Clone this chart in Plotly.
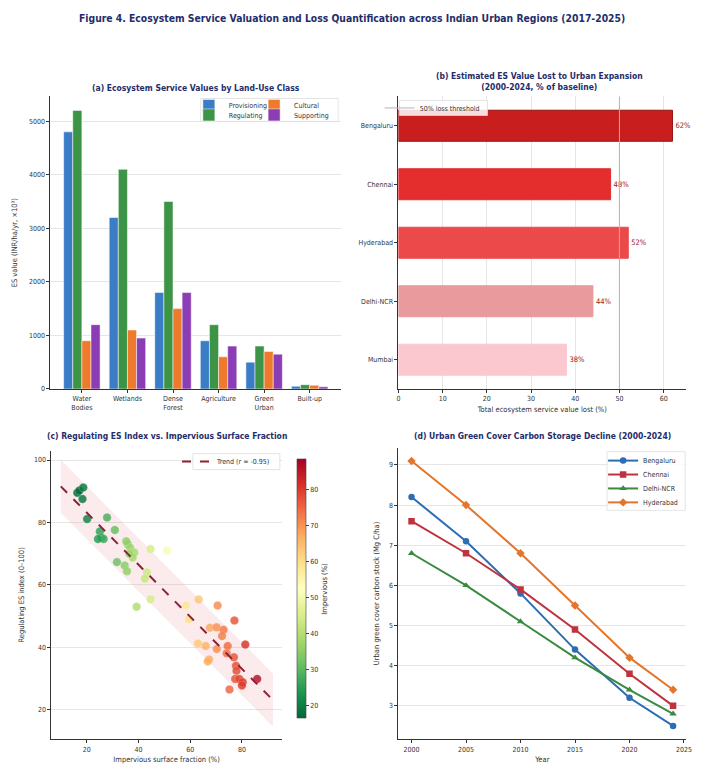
import plotly.graph_objects as go

# ---------------- data ----------------
land_use = ["Water<br>Bodies", "Wetlands", "Dense<br>Forest", "Agriculture", "Green<br>Urban", "Built-up"]
provisioning = [4800, 3200, 1800, 900, 500, 50]
regulating = [5200, 4100, 3500, 1200, 800, 80]
cultural = [900, 1100, 1500, 600, 700, 70]
supporting = [1200, 950, 1800, 800, 650, 40]

cities_b = ["Bengaluru", "Chennai", "Hyderabad", "Delhi-NCR", "Mumbai"]
loss_pct = [62, 48, 52, 44, 38]
threshold = 50

impervious = [16.4, 17.2, 18.7, 18.4, 20.2, 27.9, 30.9, 25.1, 25.7, 26.6, 24.4, 35.9, 36.8,
              35.3, 38.4, 37.8, 31.7, 34.7, 35.6, 36.5, 44.7, 51.1, 43.3, 44.7, 39.3, 42.5,
              58.4, 59.5, 63.3, 70.6, 77.1, 67.6, 70.2, 72.9, 72.3, 81.3, 63.0, 66.0, 70.3,
              74.5, 74.1, 67.3, 66.8, 76.9, 77.7, 77.9, 77.4, 79.0, 80.3, 80.0, 85.9, 75.2]
reg_index = [89.5, 90.2, 91.2, 87.5, 81.1, 81.6, 77.6, 77.1, 75.2, 74.7, 74.7, 73.0, 71.9,
             74.0, 70.4, 68.8, 67.3, 66.2, 64.4, 70.0, 71.5, 71.0, 64.0, 55.4, 53.0, 62.0,
             53.4, 49.0, 55.3, 53.4, 48.6, 46.3, 46.4, 45.6, 43.6, 40.9, 41.2, 40.4, 39.5,
             40.4, 38.1, 36.1, 35.5, 36.8, 34.1, 32.5, 29.9, 29.9, 28.8, 27.8, 29.9, 26.5]
trend_x = [10, 92]
trend_slope = -0.835
trend_intercept = 99.9
band_half = 8.5

years = [2000, 2005, 2010, 2015, 2020, 2024]
carbon = {
    "Bengaluru": [8.2, 7.1, 5.8, 4.4, 3.2, 2.5],
    "Chennai": [7.6, 6.8, 5.9, 4.9, 3.8, 3.0],
    "Delhi-NCR": [6.8, 6.0, 5.1, 4.2, 3.4, 2.8],
    "Hyderabad": [9.1, 8.0, 6.8, 5.5, 4.2, 3.4],
}

# ---------------- style ----------------
W, H = 707, 771
FONT = "DejaVu Sans Condensed, Liberation Sans Narrow, DejaVu Sans, sans-serif"
NAVY = "#1f2d6b"
TICK = dict(size=7, color="#333333", family=FONT)
GRID = "#e6e6e6"


def px(x):
    return x / W


def py(y):
    return 1 - y / H


fig = go.Figure()
legends = {}


def mk_legend(name, x, y):
    legends[name] = dict(x=px(x), y=py(y), xanchor="left", yanchor="middle",
                         font=dict(size=7, color="#333", family=FONT),
                         bgcolor="rgba(0,0,0,0)", borderwidth=0, tracegroupgap=0, itemwidth=30)


# ---------------- panel a ----------------
bar_cols = {"Provisioning": "#3a7cc6", "Regulating": "#3d9446", "Cultural": "#ee7a2e", "Supporting": "#8a3db4"}
series_a = [("Provisioning", provisioning, "legend", 189, 106),
            ("Regulating", regulating, "legend2", 189, 115.5),
            ("Cultural", cultural, "legend3", 255, 106),
            ("Supporting", supporting, "legend4", 255, 115.5)]
for name, vals, lg, lx, ly in series_a:
    fig.add_trace(go.Bar(x=list(range(len(land_use))), y=vals, name=name,
                         marker=dict(color=bar_cols[name], line=dict(color="white", width=0.5)),
                         xaxis="x", yaxis="y", legend=lg))
    mk_legend(lg, lx, ly)

# ---------------- panel b ----------------
b_cols = ["#c81e1e", "#e42e2e", "#ec4a4a", "#e89a9c", "#fbc8d0"]
b_edges = ["#9a1010", "#e42e2e", "#ec4a4a", "#e89a9c", "#fbc8d0"]
fig.add_trace(go.Bar(y=cities_b, x=loss_pct, orientation="h", width=0.53,
                     marker=dict(color=b_cols, line=dict(color=b_edges, width=1)),
                     text=[f"{v}%" for v in loss_pct], textposition="outside",
                     textfont=dict(size=7.5, color="#a31515", family=FONT),
                     cliponaxis=False, showlegend=False, xaxis="x2", yaxis="y2"))
fig.add_trace(go.Scatter(x=[threshold, threshold], y=[-0.5, 4.5], mode="lines",
                         line=dict(color="#b4b4b4", width=1),
                         name="50% loss threshold", xaxis="x2", yaxis="y3", legend="legend5"))
mk_legend("legend5", 382, 108.5)

# ---------------- panel c ----------------
bx = [trend_x[0], trend_x[1], trend_x[1], trend_x[0]]
by = [trend_intercept + trend_slope * trend_x[0] + band_half,
      trend_intercept + trend_slope * trend_x[1] + band_half,
      trend_intercept + trend_slope * trend_x[1] - band_half,
      trend_intercept + trend_slope * trend_x[0] - band_half]
fig.add_trace(go.Scatter(x=bx + [bx[0]], y=by + [by[0]], fill="toself", mode="lines",
                         line=dict(width=0), fillcolor="rgba(225,90,110,0.12)",
                         hoverinfo="skip", showlegend=False, xaxis="x3", yaxis="y4"))
fig.add_trace(go.Scatter(x=impervious, y=reg_index, mode="markers", showlegend=False,
                         marker=dict(size=8.5, color=impervious, colorscale="RdYlGn_r",
                                     cmin=16.4, cmax=88.5, opacity=0.82,
                                     line=dict(width=0.4, color="rgba(255,255,255,0.6)"),
                                     colorbar=dict(x=px(298), xanchor="left", thickness=9,
                                                   xpad=0, ypad=0,
                                                   y=py(592), yanchor="middle", len=260 / H,
                                                   lenmode="fraction", outlinewidth=0.6,
                                                   outlinecolor="#444",
                                                   tickvals=[20, 30, 40, 50, 60, 70, 80],
                                                   ticks="outside", ticklen=3,
                                                   tickfont=TICK,
                                                   title=dict(text="Impervious (%)", side="right",
                                                              font=dict(size=7.5, color="#333", family=FONT)))),
                         xaxis="x3", yaxis="y4"))
fig.add_trace(go.Scatter(x=trend_x, y=[trend_intercept + trend_slope * v for v in trend_x],
                         mode="lines", line=dict(color="#8e2235", width=2, dash="dash"),
                         name="Trend (r = -0.95)", xaxis="x3", yaxis="y4", legend="legend6"))
mk_legend("legend6", 177, 464)

# ---------------- panel d ----------------
d_style = {"Bengaluru": ("#2c6db3", "circle", 463), "Chennai": ("#c0323d", "square", 477),
           "Delhi-NCR": ("#3a8a40", "triangle-up", 491), "Hyderabad": ("#e5752a", "diamond", 505)}
for i, (name, vals) in enumerate(carbon.items()):
    col, sym, ly = d_style[name]
    lg = f"legend{7 + i}"
    fig.add_trace(go.Scatter(x=years, y=vals, mode="lines+markers", name=name,
                             line=dict(color=col, width=2),
                             marker=dict(symbol=sym, size=6.5, color=col),
                             xaxis="x4", yaxis="y5", legend=lg))
    mk_legend(lg, 608, ly)

# ---------------- layout ----------------
dom_a_x = [px(49), px(343)]
dom_b_x = [px(401), px(692)]
dom_top_y = [py(391), py(97)]
dom_c_x = [px(50), px(283)]
dom_c_y = [py(743), py(453)]
dom_d_y = [py(743), py(450)]

axis_common = dict(showline=True, linecolor="#333333", linewidth=1, ticks="outside",
                   ticklen=3, tickcolor="#333333", tickfont=TICK, zeroline=False)

box_style = dict(type="rect", xref="paper", yref="paper", line=dict(color="#dddddd", width=0.8),
                 fillcolor="rgba(255,255,255,0.85)", layer="above")

fig.update_layout(
    width=W, height=H, margin=dict(l=0, r=0, t=0, b=0),
    paper_bgcolor="white", plot_bgcolor="white",
    font=dict(family=FONT, color="#333"),
    barmode="group", bargap=0.2, bargroupgap=0.0,
    xaxis=dict(domain=dom_a_x, anchor="y", range=[-0.69, 5.69], tickvals=list(range(6)),
               ticktext=land_use, showgrid=False, **axis_common),
    yaxis=dict(domain=dom_top_y, anchor="x", range=[0, 5460], tickvals=[0, 1000, 2000, 3000, 4000, 5000],
               showgrid=True, gridcolor=GRID, gridwidth=0.8,
               title=dict(text="ES value (INR/ha/yr, ×10³)", font=dict(size=7.5, family=FONT), standoff=10),
               **axis_common),
    xaxis2=dict(domain=dom_b_x, anchor="y2", range=[0, 65.1], tickvals=[0, 10, 20, 30, 40, 50, 60],
                showgrid=True, gridcolor=GRID, gridwidth=0.8,
                title=dict(text="Total ecosystem service value lost (%)", font=dict(size=7.5, family=FONT), standoff=4),
                **axis_common),
    yaxis2=dict(domain=dom_top_y, anchor="x2", type="category", categoryorder="array",
                categoryarray=cities_b, range=[4.5, -0.5], showgrid=False, **axis_common),
    yaxis3=dict(domain=dom_top_y, anchor="x2", overlaying="y2", range=[4.5, -0.5], visible=False),
    xaxis3=dict(domain=dom_c_x, anchor="y4", range=[6.4, 95.4], tickvals=[20, 40, 60, 80],
                showgrid=False,
                title=dict(text="Impervious surface fraction (%)", font=dict(size=7.5, family=FONT), standoff=4),
                **axis_common),
    yaxis4=dict(domain=dom_c_y, anchor="x3", range=[10.6, 103], tickvals=[20, 40, 60, 80, 100],
                showgrid=True, gridcolor=GRID, gridwidth=0.8,
                title=dict(text="Regulating ES index (0–100)", font=dict(size=7.5, family=FONT), standoff=8),
                **axis_common),
    xaxis4=dict(domain=dom_b_x, anchor="y5", range=[1998.8, 2025.2],
                tickvals=[2000, 2005, 2010, 2015, 2020, 2025], showgrid=False,
                title=dict(text="Year", font=dict(size=7.5, family=FONT), standoff=4),
                **axis_common),
    yaxis5=dict(domain=dom_d_y, anchor="x4", range=[2.17, 9.43], tickvals=[3, 4, 5, 6, 7, 8, 9],
                showgrid=True, gridcolor=GRID, gridwidth=0.8,
                title=dict(text="Urban green cover carbon stock (Mg C/ha)", font=dict(size=7.5, family=FONT), standoff=8),
                **axis_common),
    shapes=[dict(x0=px(201), x1=px(340), y0=py(122), y1=py(99), **box_style),
            dict(x0=px(402), x1=px(491), y0=py(116), y1=py(101), **box_style),
            dict(x0=px(193), x1=px(281), y0=py(472), y1=py(456), **box_style),
            dict(x0=px(612), x1=px(691), y0=py(513), y1=py(454), **box_style)],
)
fig.update_layout(**legends)

ann = [
    dict(text="<b>Figure 4. Ecosystem Service Valuation and Loss Quantification across Indian Urban Regions (2017-2025)</b>",
         x=0.5, y=py(18), font=dict(size=10.3, color=NAVY, family=FONT)),
    dict(text="<b>(a) Ecosystem Service Values by Land-Use Class</b>", x=px(196), y=py(88),
         font=dict(size=8.5, color=NAVY, family=FONT)),
    dict(text="<b>(b) Estimated ES Value Lost to Urban Expansion<br>(2000-2024, % of baseline)</b>",
         x=px(544), y=py(82), font=dict(size=8.5, color=NAVY, family=FONT)),
    dict(text="<b>(c) Regulating ES Index vs. Impervious Surface Fraction</b>", x=px(167), y=py(438),
         font=dict(size=8.5, color=NAVY, family=FONT)),
    dict(text="<b>(d) Urban Green Cover Carbon Storage Decline (2000-2024)</b>", x=px(547), y=py(438),
         font=dict(size=8.5, color=NAVY, family=FONT)),
]
for a in ann:
    a.update(xref="paper", yref="paper", showarrow=False, xanchor="center", yanchor="middle")
fig.update_layout(annotations=ann)

fig.write_html("out.html", config={"displayModeBar": False},
               post_script="document.body.style.margin='0';")
